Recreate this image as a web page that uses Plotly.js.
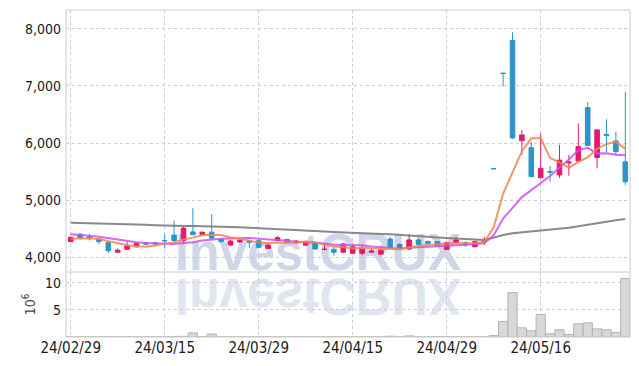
<!DOCTYPE html>
<html>
<head>
<meta charset="utf-8">
<script src="https://cdn.plot.ly/plotly-3.0.1.min.js"></script>
<style>
  html, body { margin: 0; padding: 0; background: #ffffff; }
  #wrap { position: relative; width: 639px; height: 366px; overflow: hidden; }
  #wm { position: absolute; left: 0; top: 0; width: 639px; height: 366px; z-index: 0; }
  #chart { position: absolute; left: 0; top: 0; width: 639px; height: 366px; z-index: 1; }
</style>
</head>
<body>
<div id="wrap">
  <svg id="wm" width="639" height="366" xmlns="http://www.w3.org/2000/svg">
    <text x="175" y="269.5" font-family="Liberation Sans, Arial, sans-serif" font-weight="bold" font-size="51" fill="#d0d6e7" textLength="286" lengthAdjust="spacingAndGlyphs">InvestCRUX</text>
    <g transform="translate(0,548) scale(1,-1)">
      <text x="175" y="269.5" font-family="Liberation Sans, Arial, sans-serif" font-weight="bold" font-size="51" fill="#e1e5f0" textLength="286" lengthAdjust="spacingAndGlyphs">InvestCRUX</text>
    </g>
  </svg>
  <div id="chart"></div>
</div>
<script>
const dates = [
  '24/02/29','24/03/04','24/03/05','24/03/06','24/03/07','24/03/08','24/03/11','24/03/12','24/03/13','24/03/14',
  '24/03/15','24/03/18','24/03/19','24/03/20','24/03/21','24/03/22','24/03/25','24/03/26','24/03/27','24/03/28',
  '24/03/29','24/04/01','24/04/02','24/04/03','24/04/04','24/04/05','24/04/08','24/04/09','24/04/11','24/04/12',
  '24/04/15','24/04/16','24/04/17','24/04/18','24/04/19','24/04/22','24/04/23','24/04/24','24/04/25','24/04/26',
  '24/04/29','24/04/30','24/05/02','24/05/03','24/05/07','24/05/08','24/05/09','24/05/10','24/05/13','24/05/14',
  '24/05/16','24/05/17','24/05/20','24/05/21','24/05/22','24/05/23','24/05/24','24/05/27','24/05/28','24/05/29'
];
const openP = [
  4270,4400,4355,4315,4255,4085,4135,4180,4250,4250,
  4290,4385,4290,4440,4390,4435,4315,4210,4265,4280,
  4285,4150,4290,4310,4250,4210,4240,4130,4135,4085,
  4065,4065,4085,4050,4315,4220,4140,4300,4270,4270,
  4135,4250,4255,4180,4275,5553,7225,7800,6040,5918,
  5390,5500,5440,5650,5685,6620,5745,6150,6035,5670
];
const highP = [
  4360,4420,4400,4320,4260,4150,4265,4250,4255,4265,
  4395,4635,4540,4855,4445,4750,4320,4300,4305,4290,
  4300,4250,4365,4320,4300,4290,4250,4240,4180,4240,
  4230,4200,4140,4200,4355,4240,4400,4330,4290,4280,
  4270,4360,4270,4290,4355,5553,7230,7940,6230,6020,
  6170,5600,5965,5790,6345,6715,6235,6415,6200,6900
];
const lowP = [
  4260,4310,4290,4225,4070,4080,4130,4170,4210,4200,
  4150,4240,4225,4390,4380,4320,4250,4200,4240,4165,
  4150,4145,4275,4250,4230,4200,4130,4130,4020,4070,
  4050,4030,4080,4040,4160,4140,4120,4200,4220,4180,
  4130,4240,4180,4170,4210,5547,6990,6070,5790,5400,
  5390,5320,5390,5425,5680,5950,5555,5840,5780,5265
];
const closeP = [
  4345,4340,4330,4270,4110,4120,4195,4240,4225,4230,
  4285,4290,4505,4390,4435,4330,4270,4280,4295,4260,
  4170,4210,4340,4260,4280,4270,4140,4135,4085,4230,
  4180,4150,4105,4120,4165,4150,4300,4220,4240,4195,
  4255,4300,4210,4270,4281,5547,7220,6090,6140,5410,
  5555,5490,5700,5665,5935,5955,6230,6130,5850,5320
];
const volume = [
  0.03,0.03,0.03,0.03,0.03,0.03,0.03,0.03,0.03,0.03,
  0.03,0.10,0.12,0.75,0.05,0.55,0.03,0.03,0.03,0.03,
  0.03,0.03,0.03,0.03,0.03,0.03,0.03,0.03,0.03,0.03,
  0.03,0.03,0.03,0.03,0.15,0.03,0.20,0.03,0.03,0.03,
  0.03,0.03,0.03,0.03,0.03,0.25,2.87,8.20,1.70,1.15,
  4.15,0.60,1.33,0.46,2.44,2.60,1.50,1.33,0.83,10.8
];
const ma5 = [
  4320,4330,4330,4315,4279,4234,4205,4187,4178,4202,
  4235,4254,4307,4340,4381,4390,4386,4341,4322,4287,
  4255,4243,4255,4248,4252,4272,4258,4217,4182,4172,
  4154,4156,4150,4157,4144,4138,4168,4191,4215,4221,
  4242,4242,4240,4246,4263,4522,5106,5482,5856,6082,
  6083,5737,5659,5564,5669,5749,5897,5983,6020,5897
];
const ma10 = [
  4400,4390,4375,4355,4330,4305,4280,4260,4245,4240,
  4234,4230,4247,4259,4291,4312,4320,4324,4331,4334,
  4322,4314,4298,4285,4269,4263,4250,4236,4215,4212,
  4213,4207,4183,4169,4158,4146,4162,4170,4186,4182,
  4190,4205,4215,4230,4242,4382,4674,4861,5051,5173,
  5303,5422,5571,5710,5876,5916,5817,5821,5792,5783
];
const ma60 = [
  4600,4597,4594,4590,4586,4580,4575,4570,4565,4558,
  4550,4547,4544,4542,4540,4537,4533,4528,4522,4515,
  4508,4500,4492,4483,4474,4465,4455,4446,4437,4428,
  4420,4413,4407,4402,4398,4390,4380,4368,4355,4343,
  4333,4323,4315,4308,4300,4340,4386,4415,4430,4445,
  4460,4474,4494,4514,4538,4561,4590,4620,4645,4667
];
const tickDates = ['24/02/29','24/03/15','24/03/29','24/04/15','24/04/29','24/05/16'];
const priceTicks = [4000,5000,6000,7000,8000];
const volTicks = [5,10];

const UP = '#e5186b', DOWN = '#2b95c8';
const GRID = '#c5cbe0';
const FONT = '"Liberation Sans Narrow", "DejaVu Sans Condensed", "Liberation Sans", sans-serif';

const traces = [
  {
    type: 'candlestick', x: dates, open: openP, high: highP, low: lowP, close: closeP,
    xaxis: 'x', yaxis: 'y', whiskerwidth: 0, hoverinfo: 'none',
    increasing: { line: { color: UP, width: 1 }, fillcolor: UP },
    decreasing: { line: { color: DOWN, width: 1 }, fillcolor: DOWN }
  },
  { type: 'scatter', mode: 'lines', x: dates, y: ma60, xaxis: 'x', yaxis: 'y',
    line: { color: '#7c7c7c', width: 2 }, opacity: 0.9, hoverinfo: 'none' },
  { type: 'scatter', mode: 'lines', x: dates, y: ma10, xaxis: 'x', yaxis: 'y',
    line: { color: '#cf4ff0', width: 2 }, opacity: 0.85, hoverinfo: 'none' },
  { type: 'scatter', mode: 'lines', x: dates, y: ma5, xaxis: 'x', yaxis: 'y',
    line: { color: '#f0864a', width: 2 }, opacity: 0.85, hoverinfo: 'none' },
  { type: 'bar', x: dates, y: volume, xaxis: 'x', yaxis: 'y2',
    marker: { color: '#d8d8d8', line: { color: '#b3b3b3', width: 1 } }, hoverinfo: 'none' }
];

const split = 65 / 327;
const layout = {
  width: 639, height: 366,
  margin: { l: 66, r: 9, t: 10, b: 29, pad: 0 },
  paper_bgcolor: 'rgba(0,0,0,0)', plot_bgcolor: 'rgba(0,0,0,0)',
  showlegend: false, bargap: 0.02,
  font: { family: FONT, color: '#1a1a1a' },
  xaxis: {
    type: 'category', range: [-0.5, 59.5], anchor: 'y2',
    rangeslider: { visible: false },
    tickmode: 'array', tickvals: tickDates, ticktext: tickDates,
    showgrid: true, gridcolor: GRID, griddash: 'dot', gridwidth: 1,
    zeroline: false, showline: false, ticks: '',
    tickfont: { family: FONT, size: 15, color: '#1a1a1a' }
  },
  yaxis: {
    domain: [split, 1], range: [3737, 8333], anchor: 'x',
    tickmode: 'array', tickvals: priceTicks, tickformat: ',d',
    showgrid: true, gridcolor: GRID, griddash: 'dot', gridwidth: 1,
    zeroline: false, showline: false, ticks: '', ticklabelstandoff: 4,
    tickfont: { family: FONT, size: 14, color: '#1a1a1a' }
  },
  yaxis2: {
    domain: [0, split], range: [0, 12], anchor: 'x',
    tickmode: 'array', tickvals: volTicks,
    showgrid: true, gridcolor: GRID, griddash: 'dot', gridwidth: 1,
    zeroline: false, showline: false, ticks: '', ticklabelstandoff: 4,
    tickfont: { family: FONT, size: 14, color: '#1a1a1a' },
    title: { text: '10<sup>6</sup>', standoff: 6, font: { family: FONT, size: 14, color: '#444' } }
  },
  shapes: [
    { type: 'rect', xref: 'paper', yref: 'paper', x0: 0, x1: 1, y0: 0, y1: 1,
      line: { color: '#cccccc', width: 1 }, layer: 'above' },
    { type: 'line', xref: 'paper', yref: 'paper', x0: 0, x1: 1, y0: split, y1: split,
      line: { color: '#cccccc', width: 1 }, layer: 'above' }
  ]
};

Plotly.newPlot('chart', traces, layout, { staticPlot: true, displayModeBar: false });
</script>
</body>
</html>
